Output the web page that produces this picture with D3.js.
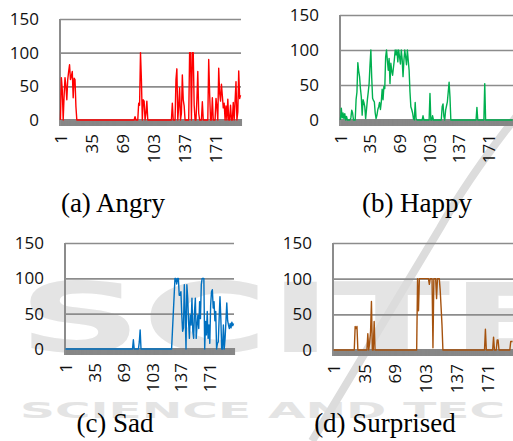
<!DOCTYPE html>
<html>
<head>
<meta charset="utf-8">
<script src="https://cdn.jsdelivr.net/npm/d3@7"></script>
<style>
  body { margin: 0; background: #fff; }
</style>
</head>
<body>
<svg id="chart" width="513" height="441"></svg>
<script>
// values, one per frame
var tickLabels = [1, 35, 69, 103, 137, 171];
var yTicks = [0, 50, 100, 150];

var angry = [
  0,63,45,0,35,63,50,30,60,72,
  82,60,65,72,33,62,60,20,0,0,
  0,0,0,0,0,0,0,0,0,0,
  0,0,0,0,0,0,0,0,0,0,
  0,0,0,0,0,0,0,0,0,0,
  0,0,0,0,0,0,0,0,0,0,
  0,0,0,0,0,0,0,0,0,0,
  0,0,0,0,0,0,0,0,0,0,
  0,0,5,0,0,0,25,22,100,60,
  0,30,28,0,10,28,0,0,0,0,
  0,0,0,0,0,0,0,0,0,0,
  0,0,0,0,0,0,0,0,0,0,
  0,0,0,25,0,0,0,60,76,0,
  20,48,0,10,67,30,21,0,0,0,
  0,0,100,100,0,100,100,22,0,0,
  30,72,10,0,0,0,27,0,0,0,
  0,0,0,90,40,0,0,33,0,0,
  0,32,20,0,77,40,28,53,36,18,
  25,0,21,0,31,0,0,22,0,0,
  26,0,28,57,0,12,73,32,37
];

var happy = [
  0,17,3,10,2,9,0,5,0,0,
  0,0,3,14,10,0,0,0,29,40,
  82,70,62,45,33,7,29,25,19,2,
  15,29,40,52,78,100,60,31,28,26,
  10,2,7,15,19,25,15,26,44,29,
  48,45,90,100,85,71,88,52,81,70,
  64,75,86,100,93,100,83,100,90,80,
  100,87,62,85,100,90,79,100,85,71,
  40,19,15,10,2,0,25,2,0,0,
  0,0,0,0,0,6,0,0,0,0,
  0,0,0,38,0,0,6,0,0,0,
  0,0,0,0,0,0,0,19,23,5,
  0,14,20,26,40,54,33,0,0,0,
  0,0,0,0,0,0,0,0,0,0,
  0,0,0,0,0,0,0,0,0,0,
  0,0,0,0,0,0,0,18,0,0,
  0,0,0,0,0,0,52,0,0,0,
  0,0,0,0,0,0,0,0,0,0,
  0,0,0,0,0,0,0,0,0,0,
  0,0,0,0,0,0,0,0,0
];

var sad = [
  0,0,0,0,0,0,0,0,0,0,
  0,0,0,0,0,0,0,0,0,0,
  0,0,0,0,0,0,0,0,0,0,
  0,0,0,0,0,0,0,0,0,0,
  0,0,0,0,0,0,0,0,0,0,
  0,0,0,0,0,0,0,0,0,0,
  0,0,0,0,0,0,0,0,0,0,
  0,0,0,0,0,0,0,0,0,0,
  13,0,0,0,0,0,0,10,27,0,
  0,0,0,0,0,0,0,0,0,0,
  0,0,0,0,0,0,0,0,0,0,
  0,0,0,0,0,0,0,0,0,0,
  0,0,0,0,0,0,25,50,75,100,
  100,92,100,100,76,76,81,48,25,30,
  91,50,0,91,72,39,15,48,34,72,
  25,15,53,72,15,34,48,29,67,43,
  91,100,100,100,0,39,20,53,15,34,
  8,62,81,84,58,67,40,53,0,8,
  10,43,74,43,0,0,34,0,15,39,
  65,40,34,29,36,30,38,33,36
];

var surprised = [
  0,0,0,0,0,0,0,0,0,0,
  0,0,0,0,0,0,0,0,0,0,
  0,0,0,0,33,30,33,0,0,0,
  0,0,0,0,0,0,0,0,23,0,
  10,25,68,0,0,40,0,0,0,0,
  0,0,0,0,0,0,0,0,0,0,
  0,0,0,0,0,0,0,0,0,0,
  0,0,0,0,0,0,0,0,0,0,
  0,0,0,0,0,0,0,0,0,0,
  0,0,0,100,55,100,100,100,100,100,
  100,100,100,100,100,100,92,100,100,100,
  3,100,100,100,72,100,100,100,84,60,
  35,0,0,0,0,0,0,0,0,0,
  0,0,0,0,0,0,0,0,0,0,
  0,0,0,0,0,0,0,0,0,0,
  0,0,0,0,0,0,0,0,0,0,
  0,0,0,0,0,0,0,0,29,0,
  0,0,0,0,0,0,0,18,0,0,
  0,14,14,0,0,0,0,0,0,0,
  0,0,0,0,0,0,12,12,12
];

var captions = ["(a) Angry", "(b) Happy", "(c) Sad", "(d) Surprised"];
var colors = ["#ff0000", "#00b050", "#0070c0", "#a5520e"];
var frames = d3.range(1, angry.length + 1);

var panels = [
  {data: angry,     x0: 60,  x1: 241, yTop: 19,  yZero: 120, capX: 113, capY: 212},
  {data: happy,     x0: 340, x1: 513, yTop: 15,  yZero: 120, capX: 417, capY: 212},
  {data: sad,       x0: 65,  x1: 234, yTop: 243, yZero: 349, capX: 115, capY: 432},
  {data: surprised, x0: 333, x1: 513, yTop: 243, yZero: 350, capX: 385, capY: 432}
];

var svg = d3.select("#chart");

// faint publisher watermark behind everything
var wm = svg.append("g").attr("fill", "#e4e4e4");
wm.append("text")
    .attr("x", 18).attr("y", 352)
    .attr("textLength", 550).attr("lengthAdjust", "spacingAndGlyphs")
    .style("font", "bold 96px 'DejaVu Sans'")
    .text("SCITE");
wm.append("text")
    .attr("x", 20).attr("y", 418)
    .attr("textLength", 485).attr("lengthAdjust", "spacingAndGlyphs")
    .style("font", "bold 21px 'DejaVu Sans'")
    .text("SCIENCE AND TEC");
wm.append("path")
    .attr("d", "M520,112 Q470,175 440,228 L312,441")
    .attr("fill", "none").attr("stroke", "#dcdcdc").attr("stroke-width", 8);

panels.forEach(function (p, k) {
    var g = svg.append("g");

    var x = d3.scalePoint().domain(frames).range([p.x0, p.x1]).padding(0.5);
    var y = d3.scaleLinear().domain([0, 150]).range([p.yZero, p.yTop]);

    // gridlines
    g.append("g")
        .attr("transform", "translate(" + p.x0 + ",0)")
        .call(d3.axisLeft(y).tickValues(yTicks).tickSize(-(p.x1 - p.x0)).tickFormat(""))
        .call(function (a) { a.select(".domain").remove(); })
        .selectAll("line").attr("stroke", "#8c8c8c").attr("stroke-width", 1.6);

    // y labels
    g.append("g")
        .attr("transform", "translate(" + p.x0 + ",0)")
        .call(d3.axisLeft(y).tickValues(yTicks).tickSize(0).tickPadding(21))
        .call(function (a) { a.select(".domain").remove(); })
        .selectAll("text")
            .style("font-family", "'Open Sans'")
            .style("font-size", "17px")
            .attr("fill", "#111");

    // dense tick band along the bottom
    g.append("g")
        .attr("transform", "translate(0," + (p.yZero - 1) + ")")
        .call(d3.axisBottom(x).tickValues(frames).tickSize(7).tickFormat(""))
        .call(function (a) { a.select(".domain").remove(); })
        .selectAll("line").attr("stroke", "#878787").attr("stroke-width", 2);

    // vertical axis
    g.append("line")
        .attr("x1", p.x0).attr("x2", p.x0)
        .attr("y1", p.yTop).attr("y2", p.yZero + 6)
        .attr("stroke", "#8c8c8c").attr("stroke-width", 2);

    // x labels, rotated
    g.append("g")
        .attr("transform", "translate(0," + p.yZero + ")")
        .call(d3.axisBottom(x).tickValues(tickLabels).tickSize(0).tickFormat(d3.format("d")))
        .call(function (a) { a.select(".domain").remove(); })
        .selectAll("text")
            .attr("transform", "rotate(-90)")
            .attr("text-anchor", "end")
            .attr("x", -14).attr("y", 0).attr("dy", "0.35em")
            .style("font-family", "'Open Sans'")
            .style("font-size", "17px")
            .attr("fill", "#111");

    var line = d3.line()
        .x(function (d, i) { return x(frames[i]); })
        .y(function (d) { return y(d); });

    g.append("path")
        .datum(p.data)
        .attr("d", line)
        .attr("fill", "none")
        .attr("stroke", colors[k])
        .attr("stroke-width", 1.4)
        .attr("stroke-linejoin", "round");

    svg.append("text")
        .attr("x", p.capX).attr("y", p.capY)
        .attr("text-anchor", "middle")
        .style("font-family", "'Liberation Serif'")
        .style("font-size", "27px")
        .text(captions[k]);
});
</script>
</body>
</html>
